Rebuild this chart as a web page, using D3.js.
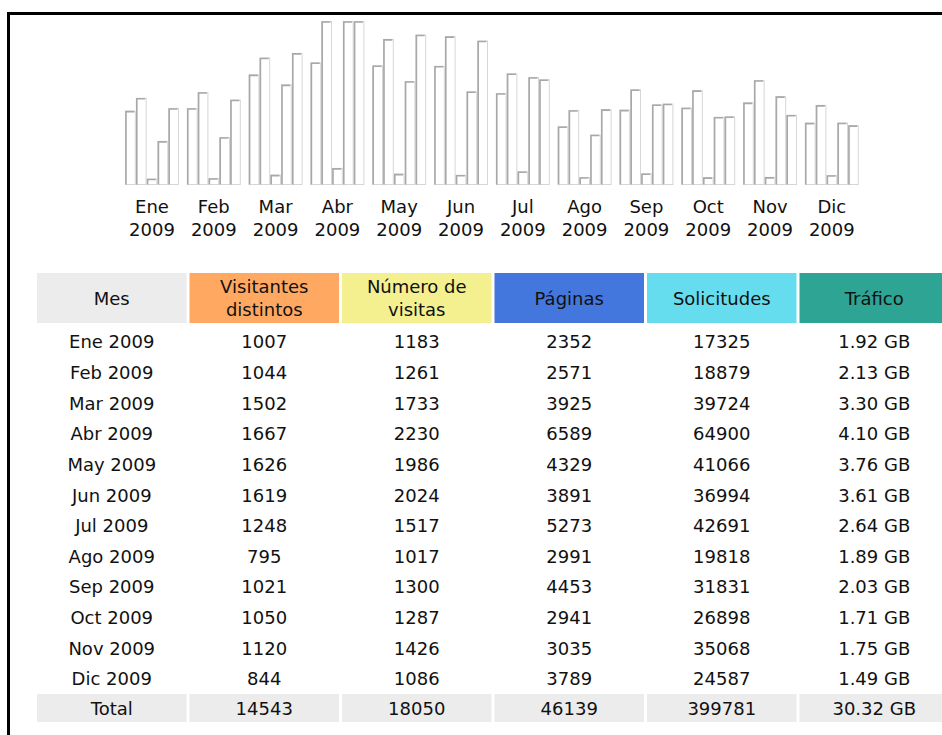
<!DOCTYPE html>
<html>
<head>
<meta charset="utf-8">
<script src="https://cdn.jsdelivr.net/npm/d3@7"></script>
<style>
  html, body { margin: 0; padding: 0; background: #fff; }
  svg { display: block; }
  text { font-family: "DejaVu Sans", Verdana, sans-serif; font-size: 18px; fill: #111; }
</style>
</head>
<body>
<svg id="chart" width="942" height="735"></svg>
<script>
const months = ["Ene", "Feb", "Mar", "Abr", "May", "Jun", "Jul", "Ago", "Sep", "Oct", "Nov", "Dic"];
const year = "2009";
const visitors = [1007, 1044, 1502, 1667, 1626, 1619, 1248, 795, 1021, 1050, 1120, 844];
const visits = [1183, 1261, 1733, 2230, 1986, 2024, 1517, 1017, 1300, 1287, 1426, 1086];
const pages = [2352, 2571, 3925, 6589, 4329, 3891, 5273, 2991, 4453, 2941, 3035, 3789];
const hits = [17325, 18879, 39724, 64900, 41066, 36994, 42691, 19818, 31831, 26898, 35068, 24587];
const trafficGB = [1.92, 2.13, 3.30, 4.10, 3.76, 3.61, 2.64, 1.89, 2.03, 1.71, 1.75, 1.49];
const headers = [["Mes"], ["Visitantes", "distintos"], ["Número de", "visitas"], ["Páginas"], ["Solicitudes"], ["Tráfico"]];
const headerColors = ["#ececec", "#ffa862", "#f4f090", "#4477dd", "#66ddee", "#2ea495"];
const totals = ["Total", "14543", "18050", "46139", "399781", "30.32 GB"];
const seriesKeys = ["visitors", "visits", "pages", "hits", "traffic"];

const svg = d3.select("#chart");

// frame
svg.append("rect").attr("x", 7).attr("y", 12).attr("width", 935).attr("height", 3).attr("fill", "#000");
svg.append("rect").attr("x", 7).attr("y", 12).attr("width", 3).attr("height", 723).attr("fill", "#000");

// bar chart
const base = 184.5, topY = 21;
const x = d3.scaleBand().domain(months).range([125, 858.8]).paddingInner(0.126).paddingOuter(0);
const xi = d3.scaleBand().domain(seriesKeys).range([0, x.bandwidth()]).padding(0);
const yV = d3.scaleLinear().domain([0, d3.max(visits)]).range([base, topY]);
const yH = d3.scaleLinear().domain([0, d3.max(hits)]).range([base, topY]);
const yK = d3.scaleLinear().domain([0, d3.max(trafficGB)]).range([base, topY]);

const rows = months.map((m, i) => ({
  month: m,
  vals: [
    { key: "visitors", y: yV(visitors[i]) },
    { key: "visits", y: yV(visits[i]) },
    { key: "pages", y: yH(pages[i]) },
    { key: "hits", y: yH(hits[i]) },
    { key: "traffic", y: yK(trafficGB[i]) }
  ]
}));

const g = svg.append("g");
const grp = g.selectAll("g.month").data(rows).join("g")
  .attr("class", "month")
  .attr("transform", d => `translate(${x(d.month)},0)`);

grp.each(function(d) {
  const sel = d3.select(this);
  d.vals.forEach(v => {
    const bx = xi(v.key), bw = xi.bandwidth();
    sel.append("rect")
      .attr("x", bx + 0.5).attr("y", v.y + 0.5)
      .attr("width", bw - 1).attr("height", Math.max(0, base - v.y - 0.5))
      .attr("fill", "#fff").attr("stroke", "#d6d6d6").attr("stroke-width", 1);
    sel.append("path")
      .attr("d", `M${bx + 1},${base} V${v.y + 1} H${bx + bw - 1.5}`)
      .attr("fill", "none").attr("stroke", "#a8a8a8").attr("stroke-width", 1.6);
  });
});

grp.append("text").attr("x", x.bandwidth() / 2).attr("y", 207).attr("dy", "0.35em")
  .attr("text-anchor", "middle").text(d => d.month);
grp.append("text").attr("x", x.bandwidth() / 2).attr("y", 230).attr("dy", "0.35em")
  .attr("text-anchor", "middle").text(year);

// table
const colX = d3.range(6).map(i => 37 + i * 152.5);
const colW = 149.5;
const t = svg.append("g");

headers.forEach((h, i) => {
  t.append("rect").attr("x", colX[i]).attr("y", 273).attr("width", colW).attr("height", 50).attr("fill", headerColors[i]);
  const cy = 298.5;
  h.forEach((line, j) => {
    const off = h.length === 1 ? 0 : (j === 0 ? -11.5 : 11.5);
    t.append("text").attr("x", colX[i] + colW / 2).attr("y", cy + off).attr("dy", "0.35em")
      .attr("text-anchor", "middle").text(line);
  });
});

const fmt = v => v.toFixed(2) + " GB";
months.forEach((m, i) => {
  const cy = 342 + i * 30.64;
  const cells = [m + " " + year, visitors[i], visits[i], pages[i], hits[i], fmt(trafficGB[i])];
  cells.forEach((c, j) => {
    t.append("text").attr("x", colX[j] + colW / 2).attr("y", cy).attr("dy", "0.35em")
      .attr("text-anchor", "middle").text(c);
  });
});

totals.forEach((c, j) => {
  t.append("rect").attr("x", colX[j]).attr("y", 694).attr("width", colW).attr("height", 28).attr("fill", "#ececec");
  t.append("text").attr("x", colX[j] + colW / 2).attr("y", 709).attr("dy", "0.35em")
    .attr("text-anchor", "middle").text(c);
});
</script>
</body>
</html>
